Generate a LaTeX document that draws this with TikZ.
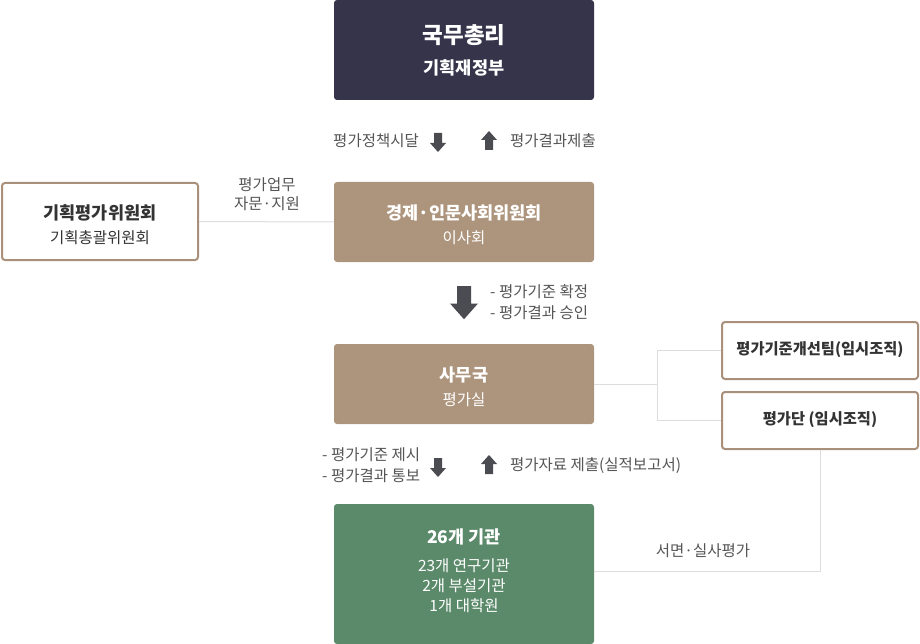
\documentclass[tikz,border=0pt]{standalone}
\usepackage{fontspec}
\setmainfont{Noto Sans CJK KR}
\usetikzlibrary{calc}
\definecolor{navy}{HTML}{35344A}
\definecolor{tan}{HTML}{AD947C}
\definecolor{grn}{HTML}{5B8A6A}
\definecolor{bordc}{HTML}{A8907A}
\definecolor{linec}{HTML}{DDDDDD}
\definecolor{arrc}{HTML}{4B4B52}
\definecolor{txtc}{HTML}{555555}
\definecolor{darktxt}{HTML}{333333}
\tikzset{
  x=1pt,y=-1pt,
  fillbox/.style={rounded corners=3pt, draw=none, inner sep=0pt, text=white, align=center},
  outbox/.style={rounded corners=3pt, draw=bordc, line width=2pt, fill=white, inner sep=0pt, align=center, text=darktxt},
  conn/.style={draw=linec, line width=1pt},
  lbl/.style={text=txtc, font=\fontsize{15.5}{21}\selectfont, inner sep=0pt, align=left},
  ttl/.style={font=\fontsize{17.5}{21}\selectfont\bfseries, inner sep=0pt},
  sub/.style={font=\fontsize{15.5}{20}\selectfont, inner sep=0pt},
  downarrow/.pic={\fill[arrc] (-4,0) -- (4,0) -- (4,10) -- (8,10) -- (0,19) -- (-8,10) -- (-4,10) -- cycle;},
  uparrow/.pic={\fill[arrc] (-4,19) -- (4,19) -- (4,9) -- (8,9) -- (0,0) -- (-8,9) -- (-4,9) -- cycle;}
}
\begin{document}
\begin{tikzpicture}
\useasboundingbox (0,0) rectangle (920,644);
% boxes
\node[fillbox, fill=navy, minimum width=260pt, minimum height=100pt] (pm) at (464,50) {};
\node[fillbox, fill=tan, minimum width=260pt, minimum height=80pt] (nrc) at (464,222) {};
\node[outbox, minimum width=196pt, minimum height=77pt] (pec) at (100,221.5) {};
\node[fillbox, fill=tan, minimum width=260pt, minimum height=80pt] (sec) at (464,384) {};
\node[outbox, minimum width=196pt, minimum height=57pt] (team) at (820,350.5) {};
\node[outbox, minimum width=196pt, minimum height=57pt] (grp) at (820,420.5) {};
\node[fillbox, fill=grn, minimum width=260pt, minimum height=140pt] (inst) at (464,574) {};
% texts in boxes
\node[text=white, font=\fontsize{22.5}{26}\selectfont\bfseries, inner sep=0pt] (pmt) at (464,35) {국무총리};
\node[text=white, font=\fontsize{17.5}{21}\selectfont\bfseries, inner sep=0pt] (pms) at (464,68) {기획재정부};
\node[ttl, text=white] (nrct) at (464,213) {경제·인문사회위원회};
\node[sub, text=white] (nrcs) at (464,238) {이사회};
\node[ttl, text=darktxt] (pect) at (100,213) {기획평가위원회};
\node[sub, text=darktxt] (pecs) at (100,238) {기획총괄위원회};
\node[ttl, text=white] (sect) at (464,375) {사무국};
\node[sub, text=white] (secs) at (464,400) {평가실};
\node[ttl, text=darktxt, font=\fontsize{15.3}{20}\selectfont\bfseries] (teamt) at (820,350) {평가기준개선팀(임시조직)};
\node[ttl, text=darktxt, font=\fontsize{15.3}{20}\selectfont\bfseries] (grpt) at (820,420) {평가단 (임시조직)};
\node[ttl, text=white] (instt) at (464,537) {26개 기관};
\node[sub, text=white, align=center] (insts) at (464,586) {23개 연구기관\\2개 부설기관\\1개 대학원};
% connectors
\draw[conn] (pec.east) -- (nrc.west);
\coordinate (jn) at (657,384);
\draw[conn] (sec.east) -- (jn);
\draw[conn] (team.west) -| (jn) |- (grp.west);
\draw[conn] (grp.south) |- (inst.east |- 0,571);
% labels
\node[lbl, align=center, font=\fontsize{15.5}{19}\selectfont] (l1) at (267,194) {평가업무\\자문·지원};
\node[lbl, anchor=east] (l2) at (419,141) {평가정책시달};
\node[lbl, anchor=west] (l3) at (510,141) {평가결과제출};
\node[lbl, anchor=west] (l4) at (490,302) {- 평가기준 확정\\- 평가결과 승인};
\node[lbl, anchor=west] (l5) at (322,465) {- 평가기준 제시\\- 평가결과 통보};
\node[lbl, anchor=west] (l6) at (510,466) {평가자료 제출(실적보고서)};
\node[lbl] (l7) at (703,551) {서면·실사평가};
% arrows
\pic at (438,133) {downarrow};
\pic at (489,131) {uparrow};
\pic[scale=1.75] at (464,286) {downarrow};
\pic at (438,458) {downarrow};
\pic at (489,455) {uparrow};
\end{tikzpicture}
\end{document}
